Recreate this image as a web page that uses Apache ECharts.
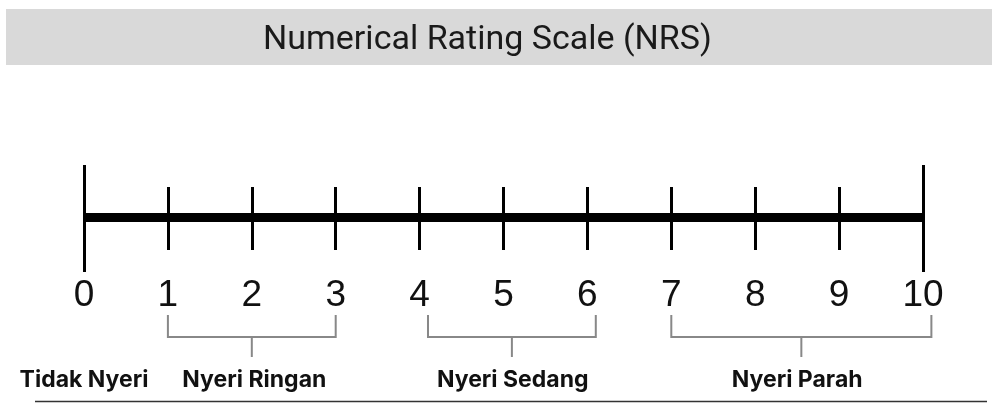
<!DOCTYPE html>
<html>
<head>
<meta charset="utf-8">
<script src="https://cdn.jsdelivr.net/npm/echarts@6/dist/echarts.min.js"></script>
<style>
  html, body { margin: 0; padding: 0; background: #fff; }
  #chart { width: 992px; height: 403px; }
</style>
</head>
<body>
<div id="chart"></div>
<script>
// scale values
const scaleMin = 0;
const scaleMax = 10;
const scaleStep = 1;

// brackets under the numbers: [from, to]
const bracketRanges = [[1, 3], [4.1, 6.1], [7, 10.1]];

// group names and where they sit on the scale
const groupNames = ['Tidak Nyeri', 'Nyeri Ringan', 'Nyeri Sedang', 'Nyeri Parah'];
const groupCenters = [0, 2.03, 5.11, 8.5];

const chart = echarts.init(document.getElementById('chart'));

const baseAxis = {
  type: 'value',
  min: scaleMin,
  max: scaleMax,
  position: 'bottom',
  splitLine: { show: false },
  axisLabel: { show: false },
  axisLine: { show: false }
};

chart.setOption({
  animation: false,
  title: {
    text: 'Numerical Rating Scale (NRS)',
    left: 263,
    top: 23,
    padding: 0,
    textStyle: {
      fontFamily: 'Roboto',
      fontWeight: 'normal',
      fontSize: 34,
      color: '#1a1a1a'
    }
  },
  graphic: [
    {
      type: 'rect',
      z: -1,
      shape: { x: 6, y: 9, width: 986, height: 56 },
      style: { fill: '#d9d9d9' }
    },
    {
      type: 'line',
      shape: { x1: 35, y1: 401.5, x2: 987, y2: 401.5 },
      style: { stroke: '#333', lineWidth: 1.5 }
    }
  ],
  grid: { left: 84, right: 69, top: 165, bottom: 186 },
  yAxis: { type: 'value', min: 0, max: 1, show: false },
  xAxis: [
    Object.assign({}, baseAxis, {
      interval: scaleStep,
      axisLine: { show: true, lineStyle: { color: '#000', width: 9, cap: 'butt' } },
      axisTick: { show: true, length: 33, lineStyle: { color: '#000', width: 3 } },
      axisLabel: {
        show: true,
        margin: 60,
        fontFamily: 'Liberation Sans',
        fontSize: 37,
        color: '#111'
      }
    }),
    Object.assign({}, baseAxis, {
      interval: scaleStep,
      axisTick: { show: true, inside: true, length: 30, lineStyle: { color: '#000', width: 3 } }
    }),
    Object.assign({}, baseAxis, {
      interval: scaleMax - scaleMin,
      axisTick: { show: true, length: 55, lineStyle: { color: '#000', width: 3 } }
    }),
    Object.assign({}, baseAxis, {
      interval: scaleMax - scaleMin,
      axisTick: { show: true, inside: true, length: 52, lineStyle: { color: '#000', width: 3 } }
    })
  ],
  series: [
    {
      type: 'custom',
      xAxisIndex: 0,
      clip: false,
      data: bracketRanges,
      renderItem: function (params, api) {
        const a = api.coord([api.value(0), 0]);
        const b = api.coord([api.value(1), 0]);
        const base = a[1];
        const mid = (a[0] + b[0]) / 2;
        const style = { stroke: '#888', lineWidth: 2, fill: null };
        return {
          type: 'group',
          children: [
            {
              type: 'polyline',
              shape: { points: [[a[0], base + 98], [a[0], base + 120], [b[0], base + 120], [b[0], base + 98]] },
              style: style
            },
            {
              type: 'line',
              shape: { x1: mid, y1: base + 120, x2: mid, y2: base + 140 },
              style: style
            }
          ]
        };
      }
    },
    {
      type: 'custom',
      xAxisIndex: 0,
      clip: false,
      data: groupCenters.map((c, i) => [c, groupNames[i]]),
      renderItem: function (params, api) {
        const p = api.coord([api.value(0), 0]);
        return {
          type: 'text',
          x: p[0],
          y: p[1] + 163,
          style: {
            text: groupNames[params.dataIndex],
            fontFamily: 'Inter',
            fontWeight: 'bold',
            fontSize: 23,
            fill: '#111',
            align: 'center',
            verticalAlign: 'middle'
          }
        };
      }
    }
  ]
});
</script>
</body>
</html>
